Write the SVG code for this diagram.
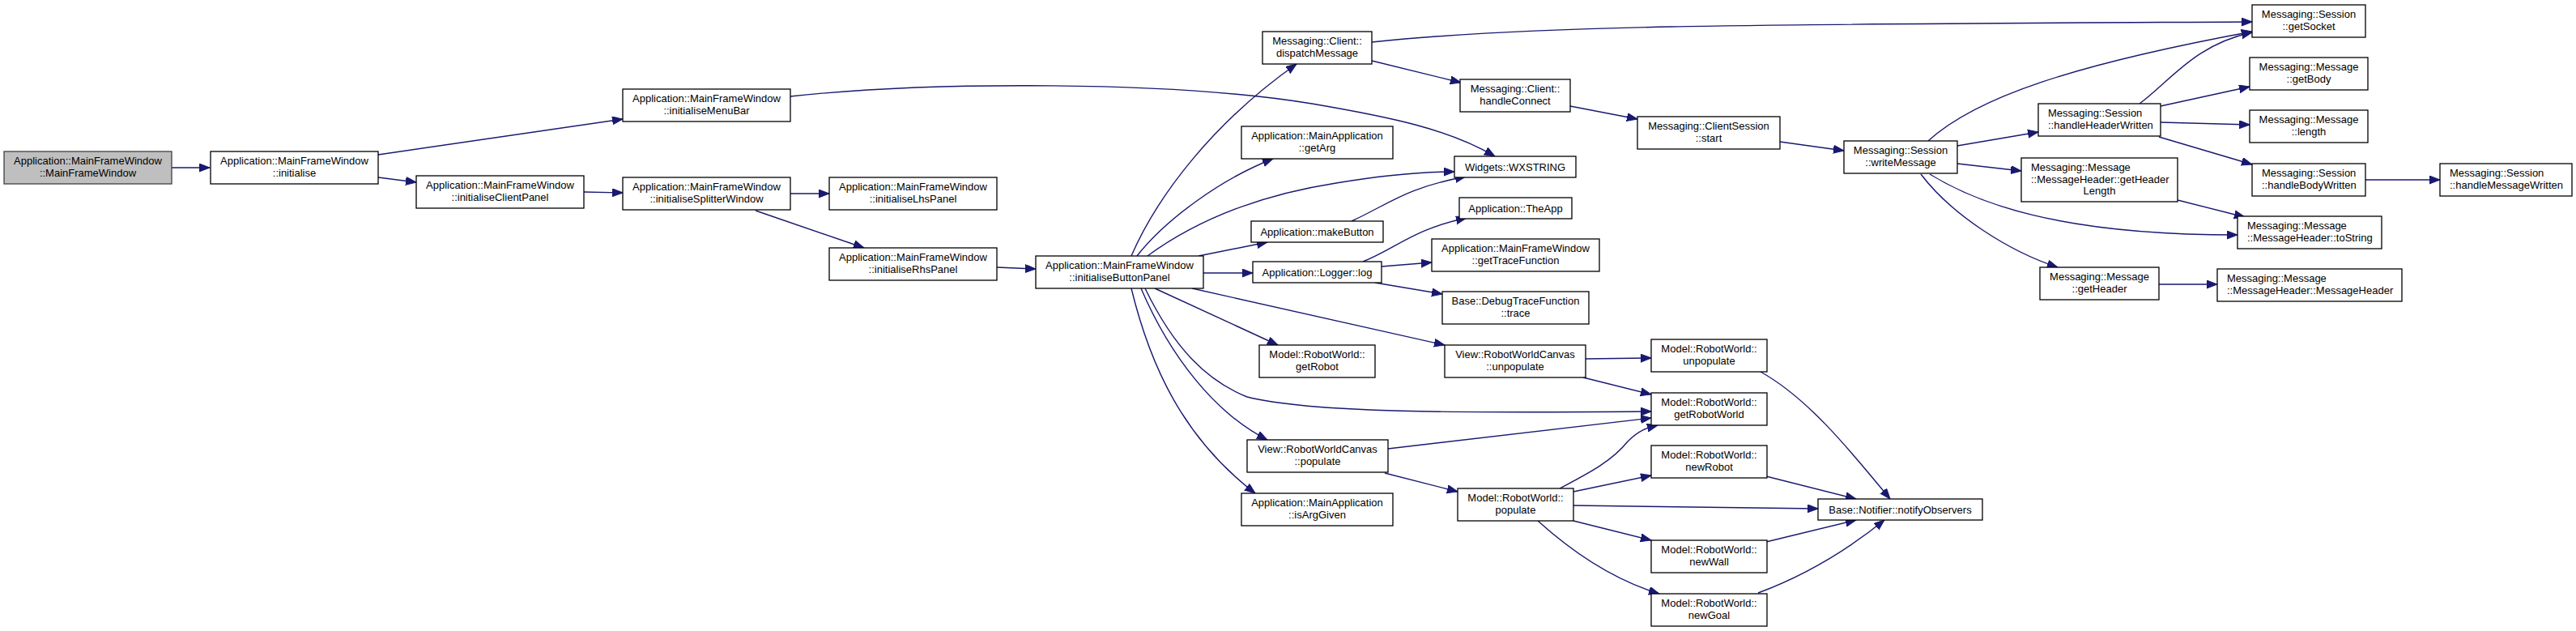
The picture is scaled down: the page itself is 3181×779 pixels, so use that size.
<svg xmlns="http://www.w3.org/2000/svg" width="3181" height="779" viewBox="0 0 3181 779">
<style>
.node rect{fill:#fff;stroke:#000;stroke-width:1.3}
#n1 rect{fill:#bfbfbf;stroke:#404040}
text{font-family:"Liberation Sans",Arial,sans-serif;font-size:13px;fill:#000}
.c{text-anchor:middle}
.edge path{fill:none;stroke:#191970;stroke-width:1.4;marker-end:url(#arr)}
</style>
<defs>
<marker id="arr" markerUnits="userSpaceOnUse" markerWidth="14" markerHeight="11" refX="13" refY="5" orient="auto">
<path d="M0,0 L13,5 L0,10 z" fill="#191970" stroke="#191970" stroke-width="1"/>
</marker>
</defs>
<rect width="3181" height="779" fill="#fff"/>
<g id="edges" class="edge">
<path d="M212,207 L259,207"/>
<path d="M467,191 L769,147"/>
<path d="M467,219 L514,225"/>
<path d="M721,237 L769,238"/>
<path d="M976,239 L1024,239"/>
<path d="M933,260 L1067,306"/>
<path d="M1231,330 L1279,332"/>
<path d="M976,119 C1150,100 1450,100 1620,128 C1720,145 1790,160 1846,193"/>
<path d="M1397,316 C1430,240 1500,150 1601,79"/>
<path d="M1404,316 C1440,270 1510,220 1572,196"/>
<path d="M1417,316 C1480,270 1560,240 1650,226 C1710,216 1760,212 1796,212"/>
<path d="M1480,316 L1565,299"/>
<path d="M1669,273 C1715,252 1735,232 1810,218"/>
<path d="M1486,337 L1547,337"/>
<path d="M1683,323 C1725,306 1745,283 1811,269"/>
<path d="M1706,329 L1768,324"/>
<path d="M1698,349 L1781,363"/>
<path d="M1472,356 L1784,426"/>
<path d="M1426,356 L1578,426"/>
<path d="M1414,356 C1450,430 1490,470 1540,490 C1620,510 1800,510 2039,508"/>
<path d="M1409,356 C1445,440 1500,510 1565,543"/>
<path d="M1397,356 C1420,450 1460,540 1550,609"/>
<path d="M1958,443 L2039,442"/>
<path d="M1955,466 L2039,487"/>
<path d="M1714,554 L2039,516"/>
<path d="M1710,584 L1800,607"/>
<path d="M1926,603 C1960,585 1990,570 2010,545 C2025,530 2035,528 2047,525"/>
<path d="M1943,607 L2039,587"/>
<path d="M1943,624 L2245,628"/>
<path d="M1943,643 L2039,667"/>
<path d="M1899,643 C1940,680 1990,715 2049,733"/>
<path d="M2174,459 C2230,490 2280,550 2334,616"/>
<path d="M2181,588 L2292,616"/>
<path d="M2181,669 L2292,642"/>
<path d="M2171,732 C2230,710 2280,680 2327,642"/>
<path d="M1694,52 C1900,30 2200,30 2781,27"/>
<path d="M1694,75 L1804,102"/>
<path d="M1939,131 L2022,147"/>
<path d="M2198,175 L2277,186"/>
<path d="M2381,174 C2440,120 2560,80 2781,39"/>
<path d="M2417,180 L2517,163"/>
<path d="M2417,202 L2496,211"/>
<path d="M2383,215 C2440,250 2540,290 2763,290"/>
<path d="M2372,215 C2410,265 2480,310 2541,330"/>
<path d="M2642,128 C2680,100 2710,55 2781,40"/>
<path d="M2668,131 L2778,107"/>
<path d="M2668,151 L2778,154"/>
<path d="M2666,169 L2781,203"/>
<path d="M2921,222 L3013,222"/>
<path d="M2689,247 L2772,268"/>
<path d="M2666,351 L2738,351"/>
</g>
<g id="n1" class="node"><rect x="5" y="187" width="207" height="40"/><text class="c" x="108.5" y="203">Application::MainFrameWindow</text><text class="c" x="108.5" y="217.5">::MainFrameWindow</text></g>
<g id="n2" class="node"><rect x="260" y="187" width="207" height="40"/><text class="c" x="363.5" y="203">Application::MainFrameWindow</text><text class="c" x="363.5" y="217.5">::initialise</text></g>
<g id="n3" class="node"><rect x="769" y="110" width="207" height="40"/><text class="c" x="872.5" y="126">Application::MainFrameWindow</text><text class="c" x="872.5" y="140.5">::initialiseMenuBar</text></g>
<g id="n4" class="node"><rect x="514" y="217" width="207" height="40"/><text class="c" x="617.5" y="233">Application::MainFrameWindow</text><text class="c" x="617.5" y="247.5">::initialiseClientPanel</text></g>
<g id="n5" class="node"><rect x="769" y="219" width="207" height="40"/><text class="c" x="872.5" y="235">Application::MainFrameWindow</text><text class="c" x="872.5" y="249.5">::initialiseSplitterWindow</text></g>
<g id="n6" class="node"><rect x="1024" y="219" width="207" height="40"/><text class="c" x="1127.5" y="235">Application::MainFrameWindow</text><text class="c" x="1127.5" y="249.5">::initialiseLhsPanel</text></g>
<g id="n7" class="node"><rect x="1024" y="306" width="207" height="40"/><text class="c" x="1127.5" y="322">Application::MainFrameWindow</text><text class="c" x="1127.5" y="336.5">::initialiseRhsPanel</text></g>
<g id="n8" class="node"><rect x="1279" y="316" width="207" height="40"/><text class="c" x="1382.5" y="332">Application::MainFrameWindow</text><text class="c" x="1382.5" y="346.5">::initialiseButtonPanel</text></g>
<g id="n9" class="node"><rect x="1559" y="39" width="135" height="40"/><text class="c" x="1626.5" y="55">Messaging::Client::</text><text class="c" x="1626.5" y="69.5">dispatchMessage</text></g>
<g id="n10" class="node"><rect x="1533" y="156" width="187" height="40"/><text class="c" x="1626.5" y="172">Application::MainApplication</text><text class="c" x="1626.5" y="186.5">::getArg</text></g>
<g id="n11" class="node"><rect x="1545" y="273" width="163" height="26"/><text class="c" x="1626.5" y="290.5">Application::makeButton</text></g>
<g id="n12" class="node"><rect x="1547" y="323" width="159" height="26"/><text class="c" x="1626.5" y="340.5">Application::Logger::log</text></g>
<g id="n13" class="node"><rect x="1555" y="426" width="143" height="40"/><text class="c" x="1626.5" y="442">Model::RobotWorld::</text><text class="c" x="1626.5" y="456.5">getRobot</text></g>
<g id="n14" class="node"><rect x="1540" y="543" width="174" height="40"/><text class="c" x="1627" y="559">View::RobotWorldCanvas</text><text class="c" x="1627" y="573.5">::populate</text></g>
<g id="n15" class="node"><rect x="1533" y="609" width="187" height="40"/><text class="c" x="1626.5" y="625">Application::MainApplication</text><text class="c" x="1626.5" y="639.5">::isArgGiven</text></g>
<g id="n16" class="node"><rect x="1803" y="98" width="136" height="40"/><text class="c" x="1871" y="114">Messaging::Client::</text><text class="c" x="1871" y="128.5">handleConnect</text></g>
<g id="n17" class="node"><rect x="1796" y="193" width="150" height="26"/><text class="c" x="1871" y="210.5">Widgets::WXSTRING</text></g>
<g id="n18" class="node"><rect x="1802" y="244" width="139" height="26"/><text class="c" x="1871.5" y="261.5">Application::TheApp</text></g>
<g id="n19" class="node"><rect x="1768" y="295" width="207" height="40"/><text class="c" x="1871.5" y="311">Application::MainFrameWindow</text><text class="c" x="1871.5" y="325.5">::getTraceFunction</text></g>
<g id="n20" class="node"><rect x="1781" y="360" width="181" height="40"/><text class="c" x="1871.5" y="376">Base::DebugTraceFunction</text><text class="c" x="1871.5" y="390.5">::trace</text></g>
<g id="n21" class="node"><rect x="1784" y="426" width="174" height="40"/><text class="c" x="1871" y="442">View::RobotWorldCanvas</text><text class="c" x="1871" y="456.5">::unpopulate</text></g>
<g id="n22" class="node"><rect x="1800" y="603" width="143" height="40"/><text class="c" x="1871.5" y="619">Model::RobotWorld::</text><text class="c" x="1871.5" y="633.5">populate</text></g>
<g id="n23" class="node"><rect x="2022" y="144" width="176" height="40"/><text class="c" x="2110" y="160">Messaging::ClientSession</text><text class="c" x="2110" y="174.5">::start</text></g>
<g id="n24" class="node"><rect x="2039" y="419" width="143" height="40"/><text class="c" x="2110.5" y="435">Model::RobotWorld::</text><text class="c" x="2110.5" y="449.5">unpopulate</text></g>
<g id="n25" class="node"><rect x="2039" y="485" width="143" height="40"/><text class="c" x="2110.5" y="501">Model::RobotWorld::</text><text class="c" x="2110.5" y="515.5">getRobotWorld</text></g>
<g id="n26" class="node"><rect x="2039" y="550" width="143" height="40"/><text class="c" x="2110.5" y="566">Model::RobotWorld::</text><text class="c" x="2110.5" y="580.5">newRobot</text></g>
<g id="n27" class="node"><rect x="2039" y="667" width="143" height="40"/><text class="c" x="2110.5" y="683">Model::RobotWorld::</text><text class="c" x="2110.5" y="697.5">newWall</text></g>
<g id="n28" class="node"><rect x="2039" y="733" width="143" height="40"/><text class="c" x="2110.5" y="749">Model::RobotWorld::</text><text class="c" x="2110.5" y="763.5">newGoal</text></g>
<g id="n29" class="node"><rect x="2245" y="616" width="203" height="26"/><text class="c" x="2346.5" y="633.5">Base::Notifier::notifyObservers</text></g>
<g id="n30" class="node"><rect x="2277" y="174" width="140" height="40"/><text class="c" x="2347" y="190">Messaging::Session</text><text class="c" x="2347" y="204.5">::writeMessage</text></g>
<g id="n31" class="node"><rect x="2517" y="128" width="151" height="40"/><text x="2529" y="144">Messaging::Session</text><text x="2529" y="158.5">::handleHeaderWritten</text></g>
<g id="n32" class="node"><rect x="2496" y="195" width="193" height="54"/><text x="2508" y="211">Messaging::Message</text><text x="2508" y="225.5">::MessageHeader::getHeader</text><text class="c" x="2592.5" y="240">Length</text></g>
<g id="n33" class="node"><rect x="2519" y="330" width="147" height="40"/><text class="c" x="2592.5" y="346">Messaging::Message</text><text class="c" x="2592.5" y="360.5">::getHeader</text></g>
<g id="n34" class="node"><rect x="2781" y="6" width="140" height="40"/><text class="c" x="2851" y="22">Messaging::Session</text><text class="c" x="2851" y="36.5">::getSocket</text></g>
<g id="n35" class="node"><rect x="2778" y="71" width="146" height="40"/><text class="c" x="2851" y="87">Messaging::Message</text><text class="c" x="2851" y="101.5">::getBody</text></g>
<g id="n36" class="node"><rect x="2778" y="136" width="146" height="40"/><text class="c" x="2851" y="152">Messaging::Message</text><text class="c" x="2851" y="166.5">::length</text></g>
<g id="n37" class="node"><rect x="2781" y="202" width="140" height="40"/><text x="2793" y="218">Messaging::Session</text><text x="2793" y="232.5">::handleBodyWritten</text></g>
<g id="n38" class="node"><rect x="2763" y="267" width="178" height="40"/><text x="2775" y="283">Messaging::Message</text><text x="2775" y="297.5">::MessageHeader::toString</text></g>
<g id="n39" class="node"><rect x="2738" y="332" width="228" height="40"/><text x="2750" y="348">Messaging::Message</text><text x="2750" y="362.5">::MessageHeader::MessageHeader</text></g>
<g id="n40" class="node"><rect x="3013" y="202" width="163" height="40"/><text x="3025" y="218">Messaging::Session</text><text x="3025" y="232.5">::handleMessageWritten</text></g>
</svg>
